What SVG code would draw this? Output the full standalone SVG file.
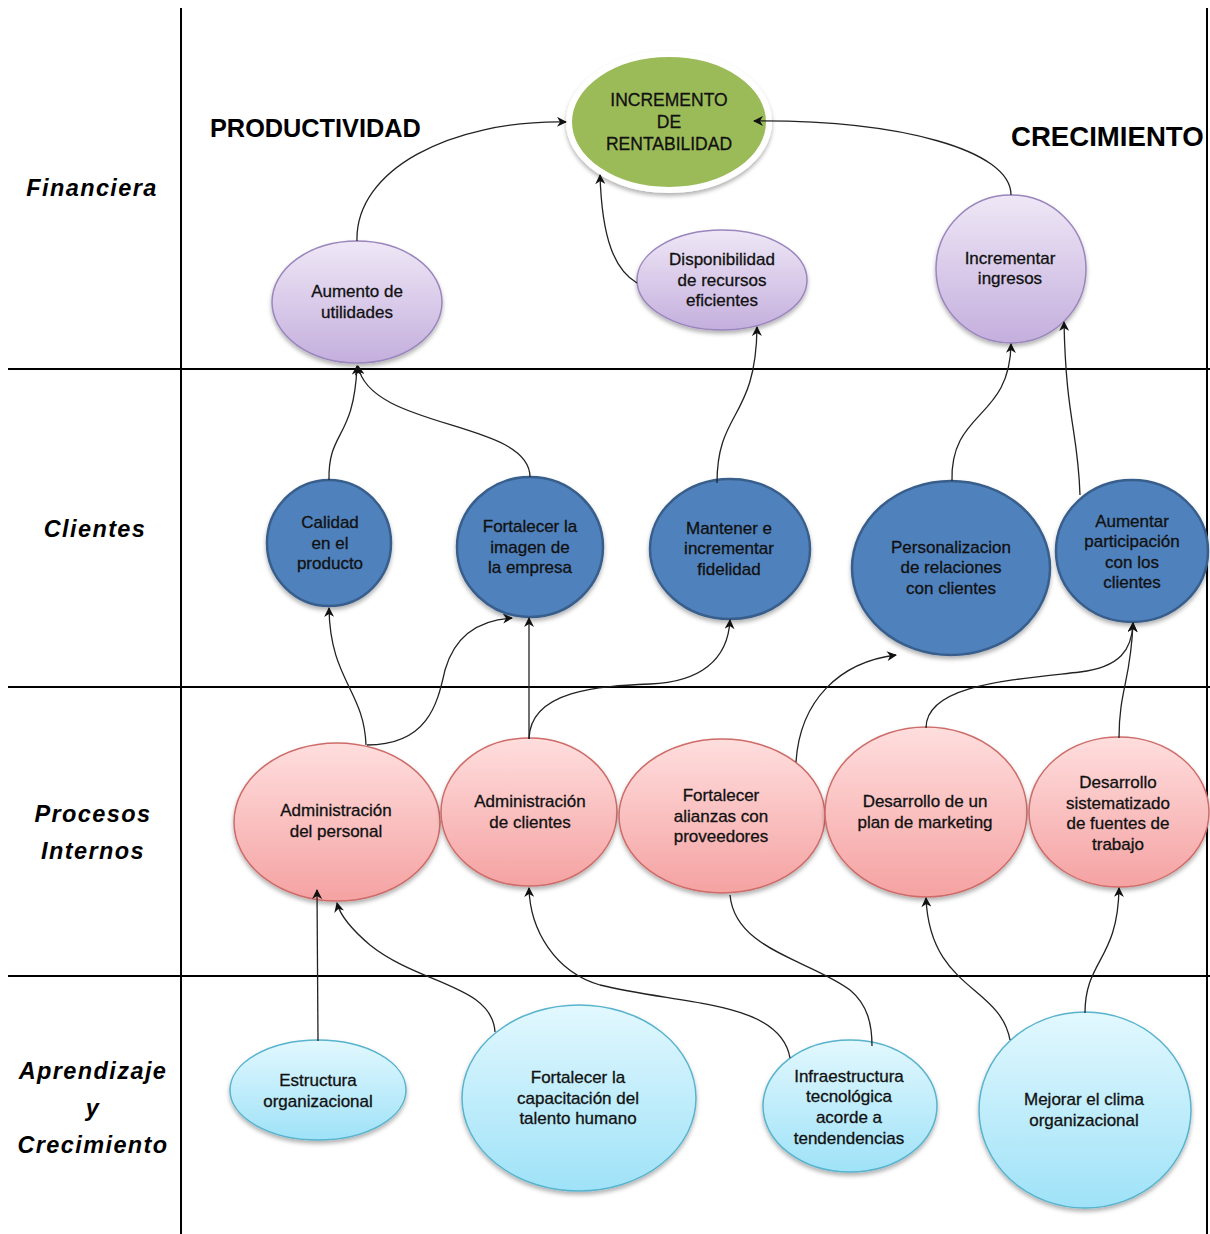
<svg xmlns="http://www.w3.org/2000/svg" width="1210" height="1234" viewBox="0 0 1210 1234">
<style>
.grid{stroke:#000;stroke-width:2;fill:none}
.lane{font-family:"Liberation Sans",Arial,sans-serif;font-weight:bold;font-style:italic;font-size:23.5px;letter-spacing:1.4px;fill:#000;text-anchor:middle}
.hdr{font-family:"Liberation Sans",Arial,sans-serif;font-weight:bold;fill:#000}
.t{font-family:"Liberation Sans",Arial,sans-serif;font-size:17px;fill:#111;stroke:#111;stroke-width:0.3;text-anchor:middle}
.tg{font-family:"Liberation Sans",Arial,sans-serif;font-size:17.5px;fill:#111;stroke:#111;stroke-width:0.3;text-anchor:middle}
.purple{fill:url(#gPurple);stroke:#9a86bd;stroke-width:1.5;filter:url(#sh)}
.blue{fill:#4f81bd;stroke:#395e8c;stroke-width:2.5;filter:url(#sh)}
.pink{fill:url(#gPink);stroke:#cd6c69;stroke-width:1.5;filter:url(#sh)}
.cyan{fill:url(#gCyan);stroke:#58b3cd;stroke-width:1.5;filter:url(#sh)}
.c{fill:none;stroke:#222;stroke-width:1.3}
.a{marker-end:url(#arr)}
</style>
<defs>
<linearGradient id="gPurple" x1="0" y1="0" x2="0" y2="1">
<stop offset="0" stop-color="#efe7f6"/><stop offset="1" stop-color="#c4afdd"/>
</linearGradient>
<linearGradient id="gPink" x1="0" y1="0" x2="0" y2="1">
<stop offset="0" stop-color="#ffdede"/><stop offset="1" stop-color="#f5a2a2"/>
</linearGradient>
<linearGradient id="gCyan" x1="0" y1="0" x2="0" y2="1">
<stop offset="0" stop-color="#e2f8fe"/><stop offset="1" stop-color="#9fe2f8"/>
</linearGradient>
<filter id="sh" x="-10%" y="-10%" width="120%" height="125%">
<feDropShadow dx="0" dy="3" stdDeviation="2" flood-color="#000" flood-opacity="0.3"/>
</filter>
<marker id="arr" viewBox="0 0 10 10" refX="9" refY="5" markerWidth="12" markerHeight="10" markerUnits="userSpaceOnUse" orient="auto">
<path d="M0,0 L10,5 L0,10 L3,5 Z" fill="#111"/>
</marker>
</defs>
<rect width="1210" height="1234" fill="#fff"/>

<g id="grid">
<line class="grid" x1="181" y1="8" x2="181" y2="1234"/>
<line class="grid" x1="1207" y1="8" x2="1207" y2="1234"/>
<line class="grid" x1="8" y1="369" x2="1210" y2="369"/>
<line class="grid" x1="8" y1="687" x2="1210" y2="687"/>
<line class="grid" x1="8" y1="976" x2="1210" y2="976"/>
</g>

<g id="lanes">
<text class="lane" x="92" y="196">Financiera</text>
<text class="lane" x="95" y="537">Clientes</text>
<text class="lane" x="93" y="822">Procesos</text>
<text class="lane" x="93" y="859">Internos</text>
<text class="lane" x="93" y="1079">Aprendizaje</text>
<text class="lane" x="93" y="1116">y</text>
<text class="lane" x="93" y="1153">Crecimiento</text>
</g>

<g id="headers">
<text class="hdr" x="210" y="137" font-size="25.3">PRODUCTIVIDAD</text>
<text class="hdr" x="1011" y="146" font-size="27.6">CRECIMIENTO</text>
</g>

<g id="n-incremento">
<ellipse cx="669" cy="122" rx="100" ry="68" fill="#9bbb59" stroke="#fff" stroke-width="6" filter="url(#sh)"/>
<text class="tg" x="669" y="106">INCREMENTO</text>
<text class="tg" x="669" y="128">DE</text>
<text class="tg" x="669" y="150">RENTABILIDAD</text>
</g>

<g id="n-aumento">
<ellipse class="purple" cx="357" cy="302" rx="85" ry="61"/>
<text class="t" x="357" y="297">Aumento de</text>
<text class="t" x="357" y="318">utilidades</text>
</g>
<g id="n-disponibilidad">
<ellipse class="purple" cx="722" cy="280" rx="85" ry="50"/>
<text class="t" x="722" y="265">Disponibilidad</text>
<text class="t" x="722" y="286">de recursos</text>
<text class="t" x="722" y="306">eficientes</text>
</g>
<g id="n-ingresos">
<ellipse class="purple" cx="1011" cy="269" rx="75" ry="74"/>
<text class="t" x="1010" y="264">Incrementar</text>
<text class="t" x="1010" y="284">ingresos</text>
</g>

<g id="n-calidad">
<ellipse class="blue" cx="329" cy="543" rx="62" ry="63"/>
<text class="t" x="330" y="528">Calidad</text>
<text class="t" x="330" y="549">en el</text>
<text class="t" x="330" y="569">producto</text>
</g>
<g id="n-imagen">
<ellipse class="blue" cx="530" cy="547" rx="73" ry="70"/>
<text class="t" x="530" y="532">Fortalecer la</text>
<text class="t" x="530" y="553">imagen de</text>
<text class="t" x="530" y="573">la empresa</text>
</g>
<g id="n-fidelidad">
<ellipse class="blue" cx="730" cy="549" rx="80" ry="70"/>
<text class="t" x="729" y="534">Mantener e</text>
<text class="t" x="729" y="554">incrementar</text>
<text class="t" x="729" y="575">fidelidad</text>
</g>
<g id="n-personalizacion">
<ellipse class="blue" cx="951" cy="568" rx="99" ry="87"/>
<text class="t" x="951" y="553">Personalizacion</text>
<text class="t" x="951" y="573">de relaciones</text>
<text class="t" x="951" y="594">con clientes</text>
</g>
<g id="n-participacion">
<ellipse class="blue" cx="1132" cy="551" rx="76" ry="71"/>
<text class="t" x="1132" y="527">Aumentar</text>
<text class="t" x="1132" y="547">participación</text>
<text class="t" x="1132" y="568">con los</text>
<text class="t" x="1132" y="588">clientes</text>
</g>

<g id="n-adm-personal">
<ellipse class="pink" cx="337" cy="822" rx="103" ry="79"/>
<text class="t" x="336" y="816">Administración</text>
<text class="t" x="336" y="837">del personal</text>
</g>
<g id="n-adm-clientes">
<ellipse class="pink" cx="529" cy="812" rx="88" ry="74"/>
<text class="t" x="530" y="807">Administración</text>
<text class="t" x="530" y="828">de clientes</text>
</g>
<g id="n-alianzas">
<ellipse class="pink" cx="722" cy="816" rx="103" ry="77"/>
<text class="t" x="721" y="801">Fortalecer</text>
<text class="t" x="721" y="822">alianzas con</text>
<text class="t" x="721" y="842">proveedores</text>
</g>
<g id="n-marketing">
<ellipse class="pink" cx="926" cy="812" rx="101" ry="85"/>
<text class="t" x="925" y="807">Desarrollo de un</text>
<text class="t" x="925" y="828">plan de marketing</text>
</g>
<g id="n-sistematizado">
<ellipse class="pink" cx="1119" cy="812" rx="90" ry="75"/>
<text class="t" x="1118" y="788">Desarrollo</text>
<text class="t" x="1118" y="809">sistematizado</text>
<text class="t" x="1118" y="829">de fuentes de</text>
<text class="t" x="1118" y="850">trabajo</text>
</g>

<g id="n-estructura">
<ellipse class="cyan" cx="318" cy="1090" rx="88" ry="50"/>
<text class="t" x="318" y="1086">Estructura</text>
<text class="t" x="318" y="1107">organizacional</text>
</g>
<g id="n-capacitacion">
<ellipse class="cyan" cx="579" cy="1098" rx="117" ry="93"/>
<text class="t" x="578" y="1083">Fortalecer la</text>
<text class="t" x="578" y="1104">capacitación del</text>
<text class="t" x="578" y="1124">talento humano</text>
</g>
<g id="n-infraestructura">
<ellipse class="cyan" cx="850" cy="1106" rx="87" ry="66"/>
<text class="t" x="849" y="1082">Infraestructura</text>
<text class="t" x="849" y="1102">tecnológica</text>
<text class="t" x="849" y="1123">acorde a</text>
<text class="t" x="849" y="1144">tendendencias</text>
</g>
<g id="n-clima">
<ellipse class="cyan" cx="1085" cy="1110" rx="106" ry="98"/>
<text class="t" x="1084" y="1105">Mejorar el clima</text>
<text class="t" x="1084" y="1126">organizacional</text>
</g>

<g id="connectors">
<path class="c a" d="M357,241 C355,170 450,120 566,122"/>
<path class="c a" d="M1011,195 C1011,150 900,120 754,121"/>
<path class="c a" d="M637,283 C615,270 602,240 600,175"/>
<path class="c a" d="M329,480 C328,430 354,440 357,366"/>
<path class="c a" d="M530,477 C530,420 370,430 358,366"/>
<path class="c a" d="M717,483 C717,410 756,420 757,327"/>
<path class="c a" d="M952,481 C950,410 1010,420 1011,344"/>
<path class="c a" d="M1080,495 C1078,430 1066,420 1064,322"/>
<path class="c a" d="M366,745 C364,690 330,680 329,608"/>
<path class="c a" d="M367,745 C430,745 438,700 445,670 C455,635 480,620 512,618"/>
<path class="c a" d="M529,739 L529,618"/>
<path class="c a" d="M529,739 C530,690 600,686 650,684 C700,682 728,660 730,620"/>
<path class="c a" d="M796,762 C800,700 840,662 896,655"/>
<path class="c a" d="M926,728 C926,685 1010,680 1080,672 C1120,667 1132,650 1133,623"/>
<path class="c a" d="M1119,738 C1119,690 1131,680 1133,623"/>
<path class="c a" d="M318,1041 L317,890"/>
<path class="c a" d="M495,1032 C492,985 420,985 370,945 C350,928 340,915 337,903"/>
<path class="c a" d="M790,1058 C780,1000 680,1005 600,985 C555,972 530,930 529,888"/>
<path class="c" d="M730,895 C735,950 810,960 850,990 C868,1005 872,1025 872,1046"/>
<path class="c a" d="M1010,1040 C1000,985 930,990 926,898"/>
<path class="c a" d="M1085,1013 C1085,960 1118,960 1119,888"/>
</g>
</svg>
